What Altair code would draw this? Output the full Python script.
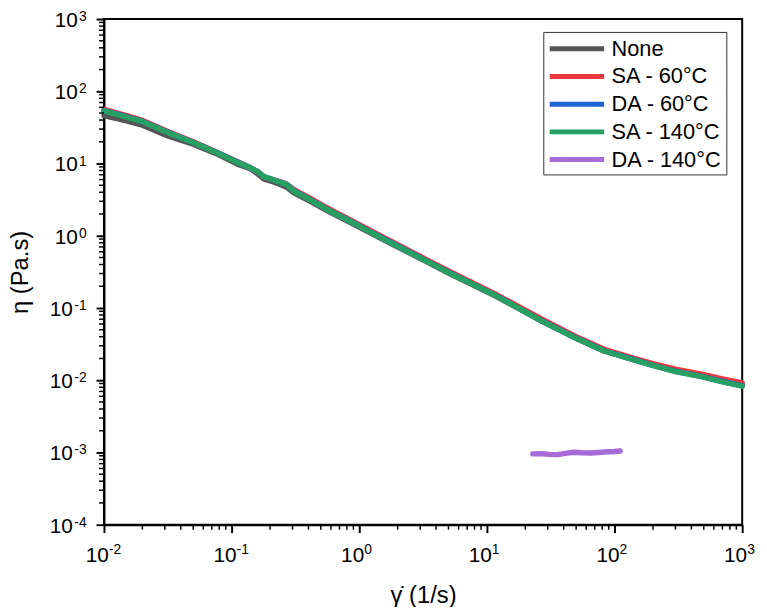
import altair as alt
import pandas as pd

FONT = "Liberation Sans"

SERIES = ["None", "SA - 60°C", "DA - 60°C", "SA - 140°C", "DA - 140°C"]
COLORS = ["#555555", "#e8383d", "#1f63d4", "#28a064", "#a66bd6"]

NONE_X = [0.01, 0.015, 0.02, 0.032, 0.05, 0.075, 0.111, 0.14, 0.16, 0.18, 0.21, 0.235, 0.27, 0.31, 0.4, 0.555,
          1.0, 1.5, 3.3, 5.0, 11.5, 26.5, 50, 82, 140, 200, 300, 490, 700, 1000]
NONE_Y = [46, 39, 34, 23.9, 18.5, 13.8, 9.8, 8.5, 7.2, 6.1, 5.6, 5.2, 4.7, 3.9, 3.1, 2.25,
          1.32, 0.91, 0.445, 0.305, 0.149, 0.067, 0.038, 0.0256, 0.0193, 0.0162, 0.0134, 0.0113, 0.0097, 0.0085]

SA60_X = [0.01, 0.015, 0.02, 0.032, 0.05, 0.075, 0.111, 0.14, 0.16, 0.18, 0.21, 0.235, 0.27, 0.31, 0.4, 0.555,
          1.0, 1.5, 3.3, 5.0, 11.5, 26.5, 50, 82, 140, 200, 300, 490, 700, 1000]
SA60_Y = [56, 46, 39.5, 27.5, 20, 14.6, 10.6, 8.8, 7.6, 6.5, 6.0, 5.65, 5.2, 4.3, 3.4, 2.45,
          1.42, 0.98, 0.475, 0.325, 0.158, 0.071, 0.040, 0.027, 0.0202, 0.017, 0.0142, 0.012, 0.0104, 0.0092]

DA60_X = [0.01, 0.015, 0.02, 0.032, 0.05, 0.075, 0.111, 0.14, 0.16, 0.18, 0.21, 0.235, 0.27, 0.31, 0.4, 0.555,
          1.0, 1.5, 3.3, 5.0, 11.5, 26.5, 50, 82, 140, 200, 300, 490, 700, 1000]
DA60_Y = [54, 44.5, 38.3, 26.8, 19.6, 14.4, 10.5, 8.7, 7.7, 6.55, 6.0, 5.6, 5.1, 4.15, 3.27, 2.35,
          1.37, 0.94, 0.457, 0.313, 0.152, 0.0672, 0.0383, 0.0258, 0.0194, 0.0161, 0.0133, 0.0112, 0.0096, 0.0084]

SA140_X = [0.01, 0.015, 0.02, 0.032, 0.05, 0.075, 0.111, 0.14, 0.16, 0.18, 0.21, 0.235, 0.27, 0.31, 0.4, 0.555,
           1.0, 1.5, 3.3, 5.0, 11.5, 26.5, 50, 82, 140, 200, 300, 490, 700, 1000]
SA140_Y = [53.5, 44, 38, 26.6, 19.5, 14.3, 10.4, 8.7, 7.7, 6.55, 6.0, 5.6, 5.1, 4.1, 3.25, 2.33,
           1.36, 0.93, 0.453, 0.31, 0.151, 0.067, 0.038, 0.0256, 0.0192, 0.016, 0.0132, 0.0111, 0.0095, 0.00828]

DA140_X = [22.9, 27, 31, 35.7, 41, 48.1, 55, 64.8, 75, 88, 100, 110.6]
DA140_Y = [0.000955, 0.00096, 0.00094, 0.000933, 0.00097, 0.001007, 0.00099, 0.000984, 0.001, 0.00102, 0.00103, 0.001047]

X_MAJOR = [0.01, 0.1, 1, 10, 100, 1000]
X_EXP = ["-2", "-1", "0", "1", "2", "3"]
Y_MAJOR = [1e-4, 1e-3, 1e-2, 1e-1, 1, 10, 100, 1000]
Y_EXP = ["-4", "-3", "-2", "-1", "0", "1", "2", "3"]

X_MINOR = [m * k for m in X_MAJOR[:-1] for k in range(2, 10)]
Y_MINOR = [m * k for m in Y_MAJOR[:-1] for k in range(2, 10)]

rows = []
for name, xs_, ys_ in zip(SERIES, [NONE_X, SA60_X, DA60_X, SA140_X, DA140_X],
                          [NONE_Y, SA60_Y, DA60_Y, SA140_Y, DA140_Y]):
    for i, (a, b) in enumerate(zip(xs_, ys_)):
        rows.append({"s": name, "x": a, "y": b, "i": i})
df = pd.DataFrame(rows)

W, H = 645, 511
xscale = alt.Scale(type="log", domain=[0.01, 1000], nice=False)
yscale = alt.Scale(type="log", domain=[1e-4, 1e3], nice=False)

common_axis = dict(labels=False, tickColor="black", domainColor="black", domainWidth=2,
                   grid=False, titleFont=FONT, titleFontSize=24, titleFontWeight="normal",
                   titleColor="black", tickSize=8, tickWidth=2)
X_AXIS = alt.Axis(values=X_MAJOR, title="γ̇ (1/s)", titleX=W / 2, titleY=79,
                  titleBaseline="alphabetic", titleAlign="center", **common_axis)
Y_AXIS = alt.Axis(values=Y_MAJOR, title="η (Pa.s)", titleX=-84, titleY=H / 2,
                  titleAngle=270, titleBaseline="middle", titleAlign="center", **common_axis)

lines = alt.Chart(df).mark_line(strokeWidth=5.5, strokeCap="round", strokeJoin="round").encode(
    x=alt.X("x:Q", scale=xscale, axis=X_AXIS),
    y=alt.Y("y:Q", scale=yscale, axis=Y_AXIS),
    color=alt.Color("s:N", scale=alt.Scale(domain=SERIES, range=COLORS),
                    legend=alt.Legend(title=None, orient="none", legendX=444, legendY=13,
                                      strokeColor="#333333", fillColor="white", padding=4,
                                      symbolType="M-2.619,0H2.619", symbolSize=441,
                                      symbolStrokeWidth=5, symbolOffset=17,
                                      labelFont=FONT, labelFontSize=22, labelColor="black",
                                      labelOffset=22, rowPadding=4)),
    detail="s:N",
    order="i:Q",
)

xminor = alt.Chart(pd.DataFrame({"v": X_MINOR})).mark_rule(color="black", strokeWidth=1.5).encode(
    x=alt.X("v:Q", scale=xscale, axis=X_AXIS), y=alt.value(H), y2=alt.value(H + 5))
yminor = alt.Chart(pd.DataFrame({"v": Y_MINOR})).mark_rule(color="black", strokeWidth=1.5).encode(
    y=alt.Y("v:Q", scale=yscale, axis=Y_AXIS), x=alt.value(0), x2=alt.value(-5))

xlab = pd.DataFrame({"v": X_MAJOR, "e": X_EXP})
ylab = pd.DataFrame({"v": Y_MAJOR, "e": Y_EXP})

x10 = alt.Chart(xlab).mark_text(text="10", align="right", baseline="alphabetic", dx=5,
                                fontSize=21, font=FONT, color="black").encode(
    x=alt.X("v:Q", scale=xscale, axis=X_AXIS), y=alt.value(H + 38))
xexp = alt.Chart(xlab).mark_text(align="left", baseline="alphabetic", dx=5,
                                 fontSize=14, font=FONT, color="black").encode(
    x=alt.X("v:Q", scale=xscale, axis=X_AXIS), y=alt.value(H + 30), text="e:N")

yexp = alt.Chart(ylab).mark_text(align="right", baseline="alphabetic", dy=2,
                                 fontSize=14, font=FONT, color="black").encode(
    y=alt.Y("v:Q", scale=yscale, axis=Y_AXIS), x=alt.value(-17.5), text="e:N")
y10pos = alt.Chart(ylab).transform_filter("datum.v >= 1").mark_text(
    text="10", align="right", baseline="alphabetic", dy=8,
    fontSize=21, font=FONT, color="black").encode(
    y=alt.Y("v:Q", scale=yscale, axis=Y_AXIS), x=alt.value(-26.5))
y10neg = alt.Chart(ylab).transform_filter("datum.v < 1").mark_text(
    text="10", align="right", baseline="alphabetic", dy=8,
    fontSize=21, font=FONT, color="black").encode(
    y=alt.Y("v:Q", scale=yscale, axis=Y_AXIS), x=alt.value(-31.5))

chart = alt.layer(lines, xminor, yminor, x10, xexp, yexp, y10pos, y10neg).properties(
    width=W, height=H,
    autosize=alt.AutoSizeParams(type="none"),
    padding={"left": 97, "top": 8, "right": 17, "bottom": 80},
    background="white",
).configure_view(stroke="black", strokeWidth=2)

chart.save("out.html", embed_options={"renderer": "svg", "actions": False})
